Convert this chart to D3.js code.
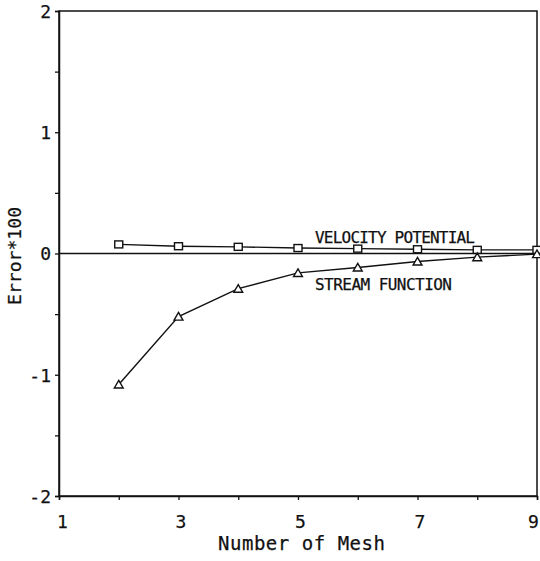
<!DOCTYPE html>
<html>
<head>
<meta charset="utf-8">
<script src="https://cdn.jsdelivr.net/npm/d3@7"></script>
<style>
  html, body { margin: 0; padding: 0; background: #fff; }
  svg { display: block; }
  text { font-family: "DejaVu Sans Mono", "Liberation Mono", monospace; fill: #111; stroke: #111; stroke-width: 0.25; }
</style>
</head>
<body>
<svg id="chart" width="540" height="561"></svg>
<script>
// ---- data ----
const meshes = [2, 3, 4, 5, 6, 7, 8, 9];
const velocityPotential = [0.075, 0.06, 0.055, 0.045, 0.04, 0.035, 0.03, 0.03];
const streamFunction = [-1.08, -0.52, -0.29, -0.16, -0.115, -0.066, -0.03, -0.005];
const xTickValues = [1, 2, 3, 4, 5, 6, 7, 8, 9];
const xTickLabels = ["1", "", "3", "", "5", "", "7", "", "9"];
const yTickValues = [-2, -1.5, -1, -0.5, 0, 0.5, 1, 1.5, 2];
const yTickLabels = ["-2", "", "-1", "", "0", "", "1", "", "2"];
const xTitle = "Number of Mesh";
const yTitle = "Error*100";
const seriesNames = ["VELOCITY POTENTIAL", "STREAM FUNCTION"];

// ---- layout ----
const svg = d3.select("#chart");
const x = d3.scaleLinear().domain([1, 9]).range([59, 537]);
const y = d3.scaleLinear().domain([-2, 2]).range([496, 11]);
const ink = "#111";

// frame
svg.append("rect")
  .attr("x", x(1)).attr("y", y(2))
  .attr("width", x(9) - x(1)).attr("height", y(-2) - y(2))
  .attr("fill", "none").attr("stroke", ink).attr("stroke-width", 1.5);

// zero line
svg.append("line")
  .attr("x1", x(1)).attr("x2", x(9))
  .attr("y1", y(0)).attr("y2", y(0))
  .attr("stroke", ink).attr("stroke-width", 1.4);

// y axis
const yAxis = svg.append("g")
  .attr("transform", `translate(${x(1)},0)`)
  .call(d3.axisLeft(y).tickValues(yTickValues)
    .tickFormat((d, i) => yTickLabels[i]).tickSize(4).tickPadding(4));
yAxis.select(".domain").attr("stroke", ink).attr("stroke-width", 1.5);
yAxis.selectAll(".tick line").attr("stroke", ink).attr("stroke-width", 1.3);
yAxis.selectAll(".tick text")
  .attr("font-size", 18).attr("fill", ink)
  .attr("font-family", "DejaVu Sans Mono")
  .attr("dy", "0.35em");

// x axis
const xAxis = svg.append("g")
  .attr("transform", `translate(0,${y(-2)})`)
  .call(d3.axisBottom(x).tickValues(xTickValues)
    .tickFormat((d, i) => xTickLabels[i]).tickSize(4));
xAxis.select(".domain").attr("stroke", ink).attr("stroke-width", 1.5);
xAxis.selectAll(".tick line").attr("stroke", ink).attr("stroke-width", 1.3);
xAxis.selectAll(".tick text")
  .attr("font-size", 18).attr("fill", ink)
  .attr("font-family", "DejaVu Sans Mono")
  .attr("y", 32).attr("dy", 0)
  .attr("dx", (d) => d === 1 ? 3 : (d === 9 ? -4 : 2));

// axis titles
svg.append("text")
  .attr("x", 218).attr("y", 550)
  .attr("font-size", 19)
  .attr("textLength", 167).attr("lengthAdjust", "spacing")
  .text(xTitle);

svg.append("text")
  .attr("transform", `translate(21,${256}) rotate(-90)`)
  .attr("text-anchor", "middle")
  .attr("font-size", 18)
  .attr("textLength", 98).attr("lengthAdjust", "spacing")
  .text(yTitle);

// lines
const line = d3.line().x(d => x(d[0])).y(d => y(d[1]));
const vpData = meshes.map((m, i) => [m, velocityPotential[i]]);
const sfData = meshes.map((m, i) => [m, streamFunction[i]]);

svg.append("path").datum(vpData).attr("d", line)
  .attr("fill", "none").attr("stroke", ink).attr("stroke-width", 1.4);
svg.append("path").datum(sfData).attr("d", line)
  .attr("fill", "none").attr("stroke", ink).attr("stroke-width", 1.4);

// markers
svg.selectAll(".sq").data(vpData).enter().append("rect")
  .attr("class", "sq")
  .attr("x", d => x(d[0]) - 4).attr("y", d => y(d[1]) - 3.5)
  .attr("width", 8).attr("height", 7)
  .attr("fill", "#fff").attr("stroke", ink).attr("stroke-width", 1.4);

const tri = d3.symbol().type(d3.symbolTriangle).size(34);
svg.selectAll(".tri").data(sfData).enter().append("path")
  .attr("class", "tri")
  .attr("transform", d => `translate(${x(d[0])},${y(d[1]) + 1})`)
  .attr("d", tri)
  .attr("fill", "#fff").attr("stroke", ink).attr("stroke-width", 1.4);

// series labels
svg.append("text")
  .attr("x", 315).attr("y", 243)
  .attr("font-size", 16)
  .attr("textLength", 160).attr("lengthAdjust", "spacing")
  .text(seriesNames[0]);
svg.append("text")
  .attr("x", 315).attr("y", 290)
  .attr("font-size", 16)
  .attr("textLength", 137).attr("lengthAdjust", "spacing")
  .text(seriesNames[1]);
</script>
</body>
</html>
